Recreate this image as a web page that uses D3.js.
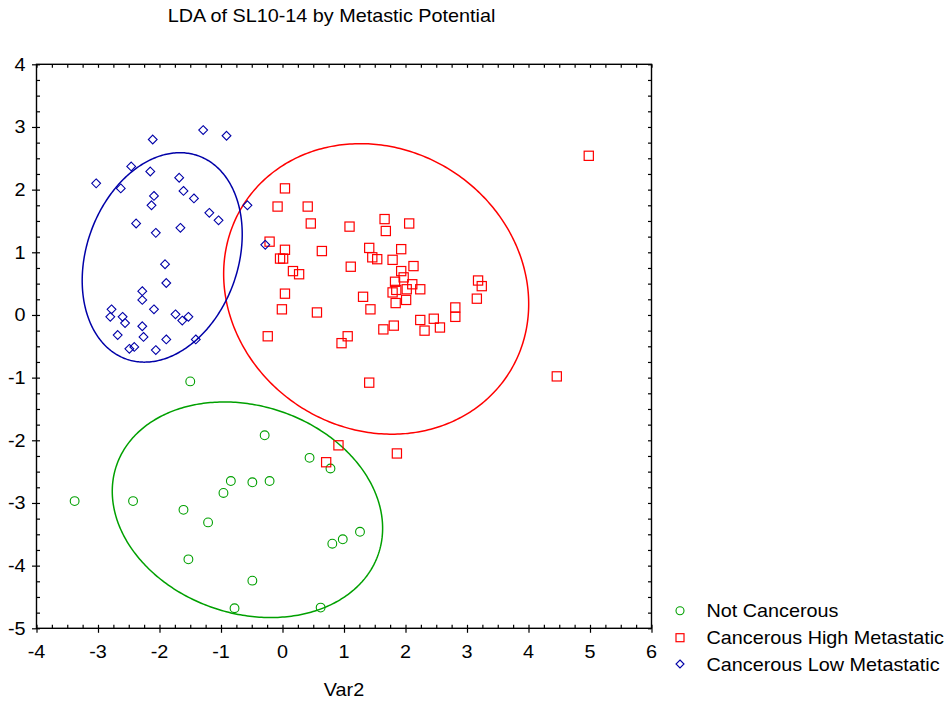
<!DOCTYPE html>
<html>
<head>
<meta charset="utf-8">
<script src="https://cdn.jsdelivr.net/npm/d3@7/dist/d3.min.js"></script>
<style>
  html, body { margin: 0; padding: 0; background: #fff; }
  svg { display: block; }
  text { font-family: "Liberation Sans", Arial, Helvetica, sans-serif; fill: #000; }
</style>
</head>
<body>
<svg id="chart" width="951" height="702"></svg>
<script>
// Discriminant scores (root 1 = Var2 on x, root 2 on y) for each group
const groups = ["Not Cancerous", "Cancerous High Metastatic", "Cancerous Low Metastatic"];

const notCancerous = [
  [-1.50, -1.06], [-0.29, -1.92], [0.44, -2.28], [0.78, -2.45], [-0.84, -2.65],
  [-0.49, -2.67], [-0.21, -2.65], [-0.96, -2.84], [-3.38, -2.97], [-2.43, -2.97],
  [-1.61, -3.11], [-1.21, -3.31], [1.26, -3.46], [0.98, -3.58], [0.81, -3.65],
  [-1.53, -3.90], [-0.49, -4.24], [-0.78, -4.68], [0.62, -4.67]
];

const highMetastatic = [
  [0.04, 2.02], [-0.08, 1.73], [0.41, 1.73], [0.46, 1.46], [1.09, 1.41],
  [1.66, 1.53], [2.06, 1.46], [1.68, 1.34], [-0.21, 1.17], [0.04, 1.04],
  [0.64, 1.02], [1.41, 1.07], [1.93, 1.05], [-0.04, 0.90], [0.01, 0.90],
  [1.46, 0.92], [1.54, 0.89], [1.79, 0.88], [0.17, 0.70], [0.27, 0.65],
  [1.11, 0.77], [2.13, 0.78], [1.93, 0.70], [1.97, 0.60], [1.83, 0.53],
  [2.11, 0.49], [2.02, 0.41], [2.24, 0.41], [1.79, 0.36], [1.85, 0.40],
  [1.84, 0.19], [2.01, 0.24], [0.04, 0.34], [3.18, 0.55], [3.24, 0.46],
  [3.16, 0.26], [1.31, 0.29], [1.43, 0.09], [-0.01, 0.09], [0.56, 0.04],
  [2.81, 0.12], [2.81, -0.03], [2.24, -0.08], [2.46, -0.06], [2.56, -0.20],
  [2.31, -0.25], [1.81, -0.17], [1.64, -0.23], [-0.24, -0.34], [1.06, -0.34],
  [0.96, -0.45], [4.98, 2.54], [4.46, -0.98], [1.41, -1.08], [0.91, -2.08],
  [0.71, -2.35], [1.86, -2.21]
];

const lowMetastatic = [
  [-1.29, 2.95], [-0.91, 2.86], [-2.11, 2.80], [-2.46, 2.37], [-2.15, 2.29],
  [-1.68, 2.19], [-3.03, 2.10], [-2.63, 2.02], [-1.61, 1.98], [-2.09, 1.90],
  [-1.44, 1.86], [-2.13, 1.75], [-0.57, 1.75], [-1.19, 1.63], [-1.04, 1.51],
  [-2.38, 1.46], [-1.66, 1.39], [-2.06, 1.31], [-0.28, 1.12], [-1.91, 0.81],
  [-1.89, 0.51], [-2.28, 0.38], [-2.28, 0.24], [-2.78, 0.09], [-2.80, -0.03],
  [-2.09, 0.09], [-2.60, -0.03], [-2.56, -0.13], [-1.74, 0.01], [-1.53, -0.03],
  [-1.63, -0.09], [-2.28, -0.18], [-2.68, -0.32], [-2.26, -0.35], [-1.89, -0.39],
  [-1.41, -0.39], [-2.49, -0.54], [-2.41, -0.51], [-2.06, -0.56]
];

// Group ellipses, centred on the group means: half-width, half-height and
// cross term of the ellipse shape matrix, in axis units
const ellipseHalfWidth  = [2.198, 2.480, 1.301];
const ellipseHalfHeight = [1.720, 2.318, 1.671];
const ellipseCross      = [-0.648, -0.594, 0.480];

const xTicks = [-4, -3, -2, -1, 0, 1, 2, 3, 4, 5, 6];
const yTicks = [-5, -4, -3, -2, -1, 0, 1, 2, 3, 4];

const title = "LDA of SL10-14 by Metastic Potential";
const xTitle = "Var2";

// ---------------------------------------------------------------------
const colors = ["#00a000", "#ff0000", "#0000a8"];
const seriesData = [notCancerous, highMetastatic, lowMetastatic];
const SX = 1.1;        // horizontal stretch of the lettering
const FONT = 18;

const svg = d3.select("#chart");
const plot = { left: 36.5, right: 651.5, top: 64.3, bottom: 628.3 };

const x = d3.scaleLinear().domain([-4, 6]).range([plot.left, plot.right]);
const y = d3.scaleLinear().domain([-5, 4]).range([plot.bottom, plot.top]);

// Ellipses
const line = d3.line().x(d => x(d[0])).y(d => y(d[1])).curve(d3.curveLinearClosed);
const tSteps = d3.range(0, 2 * Math.PI, Math.PI / 180);
seriesData.forEach((pts, i) => {
  const cx = d3.mean(pts, d => d[0]);
  const cy = d3.mean(pts, d => d[1]);
  const l11 = ellipseHalfWidth[i];
  const l21 = ellipseCross[i] / l11;
  const l22 = Math.sqrt(ellipseHalfHeight[i] ** 2 - l21 ** 2);
  const ring = tSteps.map(t => [cx + l11 * Math.cos(t), cy + l21 * Math.cos(t) + l22 * Math.sin(t)]);
  svg.append("path")
    .attr("d", line(ring))
    .attr("fill", "none")
    .attr("stroke", colors[i])
    .attr("stroke-width", 1.5);
});

// Marker shapes: 0 = circle, 1 = square, 2 = diamond
function drawMarker(sel, kind, color, s) {
  if (kind === 0) {
    sel.append("circle").attr("r", s).attr("fill", "none")
      .attr("stroke", color).attr("stroke-width", 1.1);
  } else if (kind === 1) {
    sel.append("rect").attr("x", -s).attr("y", -s).attr("width", 2 * s).attr("height", 2 * s)
      .attr("fill", "none").attr("stroke", color).attr("stroke-width", 1.2);
  } else {
    sel.append("path").attr("d", `M0,${-s}L${s},0L0,${s}L${-s},0Z`)
      .attr("fill", "none").attr("stroke", color).attr("stroke-width", 1.1);
  }
}

seriesData.forEach((pts, i) => {
  const g = svg.append("g");
  pts.forEach(p => {
    const m = g.append("g").attr("transform", `translate(${x(p[0])},${y(p[1])})`);
    drawMarker(m, i, colors[i], i === 1 ? 4.6 : 4.4);
  });
});

// Frame
svg.append("rect")
  .attr("x", plot.left).attr("y", plot.top)
  .attr("width", plot.right - plot.left).attr("height", plot.bottom - plot.top)
  .attr("fill", "none").attr("stroke", "#000").attr("stroke-width", 1.4);

// Ticks
const xMinor = d3.range(-4, 6.0001, 0.25);
const yMinor = d3.range(-5, 4.0001, 0.25);
function tickAxis(axis, values, size) {
  return axis.tickValues(values).tickSizeInner(size).tickSizeOuter(0).tickFormat("");
}
function styleAxis(g) {
  g.select(".domain").remove();
  g.selectAll(".tick line").attr("stroke", "#000").attr("stroke-width", 1.2);
}
// bottom: inward minor, outward major
svg.append("g").attr("transform", `translate(0,${plot.bottom})`)
  .call(tickAxis(d3.axisBottom(x), xMinor, -3.5)).call(styleAxis);
svg.append("g").attr("transform", `translate(0,${plot.bottom})`)
  .call(tickAxis(d3.axisBottom(x), xTicks, 4.5)).call(styleAxis);
// top: inward
svg.append("g").attr("transform", `translate(0,${plot.top})`)
  .call(tickAxis(d3.axisTop(x), xMinor, -3.5)).call(styleAxis);
// left: inward minor, outward major
svg.append("g").attr("transform", `translate(${plot.left},0)`)
  .call(tickAxis(d3.axisLeft(y), yMinor, -3.5)).call(styleAxis);
svg.append("g").attr("transform", `translate(${plot.left},0)`)
  .call(tickAxis(d3.axisLeft(y), yTicks, 4.5)).call(styleAxis);
// right: inward
svg.append("g").attr("transform", `translate(${plot.right},0)`)
  .call(tickAxis(d3.axisRight(y), yMinor, -3.5)).call(styleAxis);

// Lettering
function label(px, py, txt, anchor, size) {
  return svg.append("text")
    .attr("transform", `translate(${px},${py}) scale(${SX},1)`)
    .attr("text-anchor", anchor)
    .style("font-size", (size || FONT) + "px")
    .text(txt);
}

xTicks.forEach(v => label(x(v), plot.bottom + 30, String(v), "middle"));
yTicks.forEach(v => label(plot.left - 11, y(v) + 6.5, String(v), "end"));

label(331.5, 22, title, "middle");
label((plot.left + plot.right) / 2, 696, xTitle, "middle");

// Legend
const legendY = [610.7, 637.7, 664];
groups.forEach((name, i) => {
  const m = svg.append("g").attr("transform", `translate(680,${legendY[i]})`);
  drawMarker(m, i, colors[i], 4);
  label(706.5, legendY[i] + 6.5, name, "start");
});
</script>
</body>
</html>
